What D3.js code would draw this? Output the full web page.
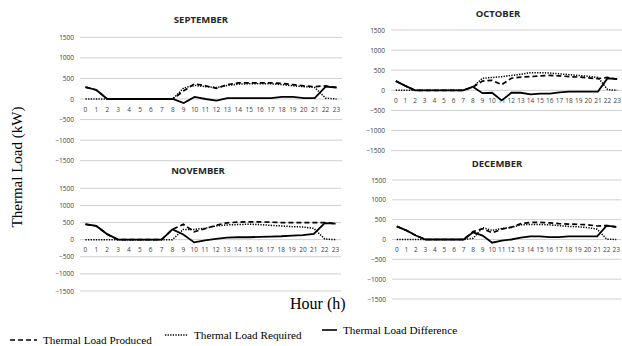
<!DOCTYPE html>
<html lang="en">
<head>
<meta charset="UTF-8">
<title>Thermal Load</title>
<style>
  body { margin: 0; background: #fff; }
  svg { display: block; }
</style>
</head>
<body>
<script src="https://d3js.org/d3.v7.min.js"></script>
<script>
const width = 622,
      height = 346;

// hours on the x axis
const hours = d3.range(24).map(String);
const yTicks = [1500, 1000, 500, 0, -500, -1000, -1500];

// September
const sepProduced = [290, 220, 0, 0, 0, 0, 0, 0, 0, 200, 370, 320, 260, 350, 390, 390, 390, 390, 380, 350, 320, 300, 320, 280];
const sepRequired = [0, 0, 0, 0, 0, 0, 0, 0, 0, 270, 330, 300, 280, 330, 360, 370, 370, 370, 350, 320, 300, 280, 20, 0];
const sepDiff     = [290, 220, 0, 0, 0, 0, 0, 0, 0, -100, 50, 0, -40, 20, 20, 20, 20, 20, 50, 50, 20, 20, 300, 280];

// October
const octProduced = [230, 110, 0, 0, 0, 0, 0, 0, 80, 230, 250, 140, 300, 330, 340, 360, 370, 360, 340, 330, 310, 290, 320, 280];
const octRequired = [0, 0, 0, 0, 0, 0, 0, 0, 80, 300, 320, 340, 370, 400, 440, 440, 430, 410, 390, 370, 350, 320, 20, 0];
const octDiff     = [230, 110, 0, 0, 0, 0, 0, 0, 90, -70, -60, -250, -60, -60, -100, -80, -80, -50, -30, -30, -30, -30, 300, 280];

// November
const novProduced = [450, 400, 160, 0, 0, 0, 0, 0, 300, 450, 230, 320, 420, 490, 510, 520, 520, 510, 500, 500, 500, 500, 500, 470];
const novRequired = [0, 0, 0, 0, 0, 0, 0, 0, 0, 300, 300, 330, 400, 430, 440, 450, 440, 420, 400, 380, 370, 330, 20, 0];
const novDiff     = [450, 400, 160, 0, 0, 0, 0, 0, 300, 150, -80, -20, 20, 60, 70, 70, 80, 90, 100, 120, 130, 170, 480, 470];

// December
const decProduced = [330, 230, 100, 0, 0, 0, 0, 0, 200, 270, 170, 260, 310, 400, 430, 430, 420, 400, 390, 380, 370, 340, 350, 320];
const decRequired = [0, 0, 0, 0, 0, 0, 0, 0, 30, 300, 230, 280, 300, 370, 380, 380, 370, 350, 330, 320, 300, 260, 10, 0];
const decDiff     = [330, 230, 100, 0, 0, 0, 0, 0, 180, 100, -80, -30, 0, 50, 80, 80, 60, 60, 80, 80, 80, 80, 350, 320];

// panel boxes (pixel layout)
const panels = [
  {title: 'SEPTEMBER', produced: sepProduced, required: sepRequired, diff: sepDiff,
   x0: 80, x1: 342, top: 37.3, bottom: 160.7, titleX: 201, titleY: 23},
  {title: 'OCTOBER', produced: octProduced, required: octRequired, diff: octDiff,
   x0: 391, x1: 622, top: 30, bottom: 150.7, titleX: 498, titleY: 17},
  {title: 'NOVEMBER', produced: novProduced, required: novRequired, diff: novDiff,
   x0: 80, x1: 341, top: 188.3, bottom: 291, titleX: 198, titleY: 174},
  {title: 'DECEMBER', produced: decProduced, required: decRequired, diff: decDiff,
   x0: 392, x1: 621, top: 180, bottom: 299, titleX: 497, titleY: 167}
];

const svg = d3.select('body')
  .append('svg')
  .attr('width', width)
  .attr('height', height);

const tickFont = '"Open Sans", sans-serif';

panels.forEach(function(p) {
  const x = d3.scaleBand().domain(hours).range([p.x0, p.x1]).paddingInner(0);
  const y = d3.scaleLinear().domain([-1500, 1500]).range([p.bottom, p.top]);
  const cx = function(i) { return x(hours[i]) + x.bandwidth() / 2; };

  const g = svg.append('g');

  // grid lines
  g.selectAll('line.grid')
    .data(yTicks)
    .enter()
    .append('line')
    .attr('class', 'grid')
    .attr('x1', p.x0)
    .attr('x2', p.x1)
    .attr('y1', d => y(d))
    .attr('y2', d => y(d))
    .style('stroke', '#d0d0d0')
    .style('stroke-width', 1);

  // y axis labels
  const yAxis = d3.axisLeft(y).tickValues(yTicks).tickFormat(d3.format('d'))
    .tickSize(0).tickPadding(6);
  const ya = g.append('g')
    .attr('transform', 'translate(' + p.x0 + ',0)')
    .call(yAxis);
  ya.select('.domain').remove();
  ya.selectAll('text')
    .style('font-family', tickFont)
    .style('font-size', '6.5px')
    .style('fill', '#404040');

  // x axis labels under the zero line
  const xAxis = d3.axisBottom(x).tickSize(0).tickPadding(8);
  const xa = g.append('g')
    .attr('transform', 'translate(0,' + y(0) + ')')
    .call(xAxis);
  xa.select('.domain').remove();
  xa.selectAll('text')
    .style('font-family', tickFont)
    .style('font-size', '6.5px')
    .style('fill', '#404040');

  // title
  g.append('text')
    .attr('x', p.titleX)
    .attr('y', p.titleY)
    .attr('text-anchor', 'middle')
    .style('font-family', tickFont)
    .style('font-weight', 'bold')
    .style('font-size', '9.5px')
    .style('fill', '#262626')
    .text(p.title);

  const line = d3.line()
    .x((d, i) => cx(i))
    .y(d => y(d));

  g.append('path')
    .attr('d', line(p.required))
    .style('fill', 'none')
    .style('stroke', '#000')
    .style('stroke-width', 1.5)
    .style('stroke-dasharray', '1.3,1.3');

  g.append('path')
    .attr('d', line(p.produced))
    .style('fill', 'none')
    .style('stroke', '#000')
    .style('stroke-width', 1.7)
    .style('stroke-dasharray', '5,3');

  g.append('path')
    .attr('d', line(p.diff))
    .style('fill', 'none')
    .style('stroke', '#000')
    .style('stroke-width', 1.8);
});

// axis titles
svg.append('text')
  .attr('transform', 'translate(22,167) rotate(-90)')
  .attr('text-anchor', 'middle')
  .style('font-family', '"Liberation Serif", serif')
  .style('font-size', '15px')
  .text('Thermal Load (kW)');

svg.append('text')
  .attr('x', 290)
  .attr('y', 309)
  .style('font-family', '"Liberation Serif", serif')
  .style('font-size', '16px')
  .text('Hour (h)');

// legend
const legend = [
  {label: 'Thermal Load Produced', dash: '5,3', x: 10, y: 340, len: 27},
  {label: 'Thermal Load Required', dash: '1.3,1.3', x: 165, y: 335, len: 23},
  {label: 'Thermal Load Difference', dash: null, x: 322, y: 330, len: 15}
];

const lg = svg.selectAll('g.legend')
  .data(legend)
  .enter()
  .append('g')
  .attr('class', 'legend');

lg.append('line')
  .attr('x1', d => d.x)
  .attr('x2', d => d.x + d.len)
  .attr('y1', d => d.y)
  .attr('y2', d => d.y)
  .style('stroke', '#000')
  .style('stroke-width', 1.6)
  .style('stroke-dasharray', d => d.dash);

lg.append('text')
  .attr('x', d => d.x + d.len + 6)
  .attr('y', d => d.y + 3.5)
  .style('font-family', '"Liberation Serif", serif')
  .style('font-size', '11.2px')
  .text(d => d.label);
</script>
</body>
</html>
